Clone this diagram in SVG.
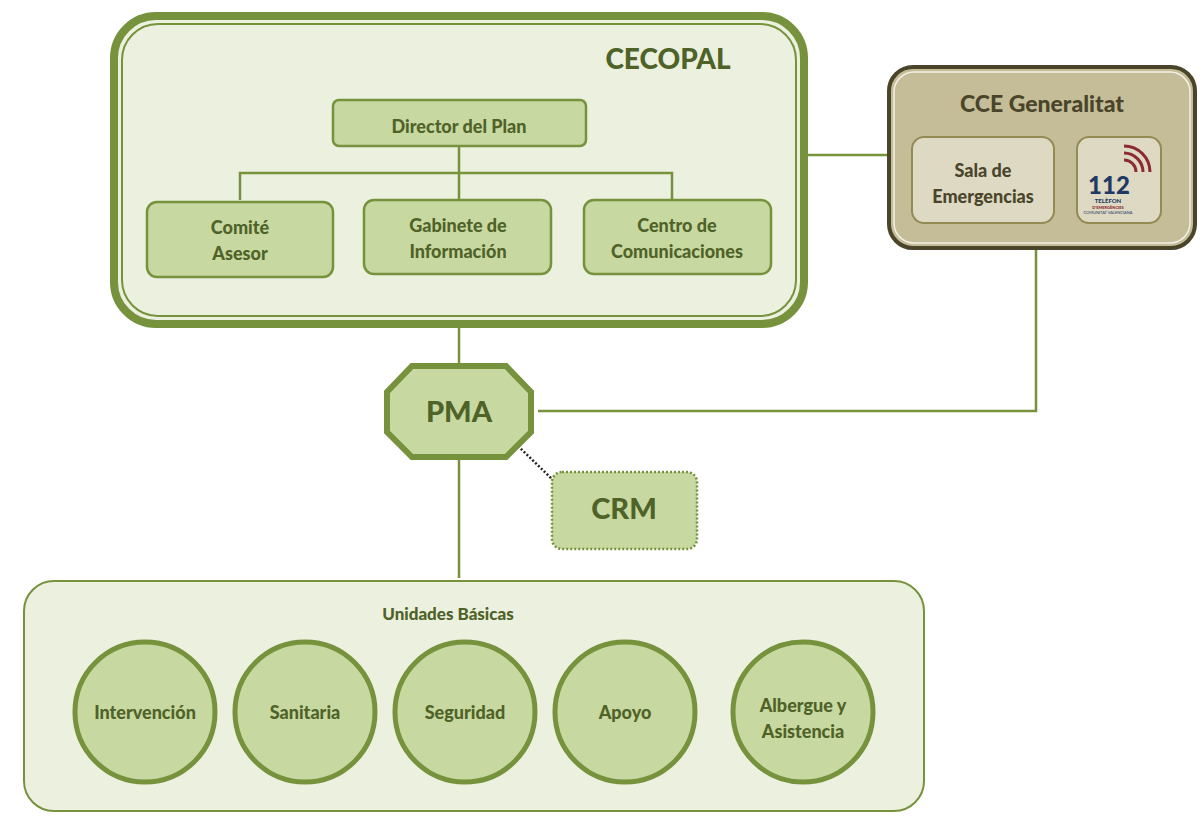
<svg xmlns="http://www.w3.org/2000/svg" width="1200" height="833" viewBox="0 0 1200 833">
<style>
text{font-family:Lato,"Open Sans",sans-serif;font-weight:900;fill:#4f6228;text-anchor:middle}
.box{fill:#c7d9a0;stroke:#76923c;stroke-width:2.5}
.ln{stroke:#76923c;stroke-width:2.5;fill:none}
.circ{fill:#c7d9a0;stroke:#76923c;stroke-width:5}
.t18{font-size:18px}
.cce{fill:#4a452a}
</style>
<rect width="1200" height="833" fill="#fff"/>
<g id="cecopal">
<rect x="114" y="16" width="690" height="308" rx="42" fill="#ebf1de" stroke="#76923c" stroke-width="8"/>
<rect x="122" y="24" width="674" height="292" rx="36" fill="none" stroke="#76923c" stroke-width="2"/>
<text x="668" y="69" font-size="28">CECOPAL</text>
</g>
<g id="connectors">
<path class="ln" d="M459,146V200M240,200V173H672V200M808,155H888M459,328V366M459,457V578M1036,249V411H538"/>
<path d="M518,446L552,479" stroke="#222" stroke-width="2.5" stroke-dasharray="2,2" fill="none"/>
</g>
<g id="director"><rect class="box" x="333" y="100" width="253" height="46" rx="6"/><text class="t18" x="459" y="133">Director del Plan</text></g>
<g id="comite"><rect class="box" x="147" y="202" width="186" height="75" rx="10"/><text class="t18" x="240" y="234">Comité</text><text class="t18" x="240" y="260">Asesor</text></g>
<g id="gabinete"><rect class="box" x="364" y="200" width="187" height="74" rx="10"/><text class="t18" x="458" y="232">Gabinete de</text><text class="t18" x="458" y="258">Información</text></g>
<g id="centro"><rect class="box" x="584" y="200" width="187" height="74" rx="10"/><text class="t18" x="677" y="232">Centro de</text><text class="t18" x="677" y="258">Comunicaciones</text></g>
<g id="cce">
<rect x="889" y="67" width="306" height="181" rx="24" fill="#c4bd97" stroke="#4a452a" stroke-width="4"/>
<rect x="894" y="72" width="296" height="171" rx="20" fill="none" stroke="#f2f0e6" stroke-width="1.5"/>
<text class="cce" x="1042" y="112" font-size="23">CCE Generalitat</text>
</g>
<g id="sala"><rect x="912" y="137" width="142" height="86" rx="12" fill="#ddd9c3" stroke="#948a54" stroke-width="2"/><text class="cce t18" x="983" y="177">Sala de</text><text class="cce t18" x="983" y="203">Emergencias</text></g>
<g id="logo112">
<rect x="1077" y="137" width="84" height="86" rx="12" fill="#ddd9c3" stroke="#948a54" stroke-width="2"/>
<path d="M1124,160a12,12 0 0 1 12,12M1124,153a19,19 0 0 1 19,19M1124,146a26,26 0 0 1 26,26" stroke="#8b2a35" stroke-width="3" fill="none"/>
<text x="1109" y="194" font-size="24" style="fill:#1f3864">112</text>
<text x="1108" y="203" font-size="6" style="fill:#1f3864">TELÈFON</text>
<text x="1108" y="209" font-size="4" style="fill:#8b2a35">D'EMERGÈNCIES</text>
<text x="1108" y="214" font-size="4" style="fill:#1f3864;font-weight:normal">COMUNITAT VALENCIANA</text>
</g>
<g id="pma"><polygon points="412,366 506,366 531,392 531,432 506,457 412,457 387,432 387,392" fill="#c7d9a0" stroke="#76923c" stroke-width="6"/><text x="459" y="422" font-size="29">PMA</text></g>
<g id="crm"><rect x="552" y="472" width="145" height="77" rx="10" fill="#c7d9a0" stroke="#76923c" stroke-width="2.5" stroke-dasharray="2,2"/><text x="624" y="519" font-size="29">CRM</text></g>
<g id="unidades"><rect x="24" y="581" width="900" height="230" rx="30" fill="#ebf1de" stroke="#76923c" stroke-width="2"/><text x="448" y="620" font-size="17">Unidades Básicas</text></g>
<g id="intervencion"><circle class="circ" cx="145" cy="712" r="70"/><text class="t18" x="145" y="719">Intervención</text></g>
<g id="sanitaria"><circle class="circ" cx="305" cy="712" r="70"/><text class="t18" x="305" y="719">Sanitaria</text></g>
<g id="seguridad"><circle class="circ" cx="465" cy="712" r="70"/><text class="t18" x="465" y="719">Seguridad</text></g>
<g id="apoyo"><circle class="circ" cx="625" cy="712" r="70"/><text class="t18" x="625" y="719">Apoyo</text></g>
<g id="albergue"><circle class="circ" cx="803" cy="712" r="70"/><text class="t18" x="803" y="712">Albergue y</text><text class="t18" x="803" y="738">Asistencia</text></g>
</svg>
